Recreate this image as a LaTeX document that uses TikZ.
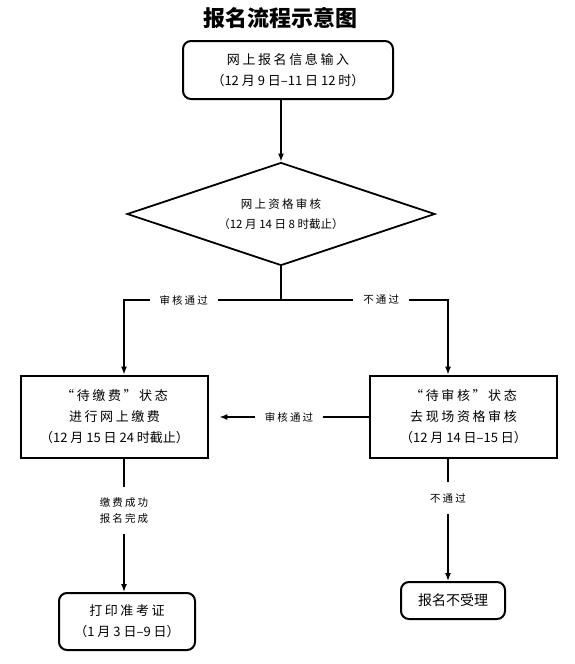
\documentclass[tikz,border=0pt]{standalone}
\usepackage{fontspec}
\setmainfont{Noto Sans CJK SC}
\newfontfamily\widecjk[LetterSpace=20]{Noto Sans CJK SC}
\usetikzlibrary{arrows.meta,shapes.geometric}
\definecolor{LineClr}{rgb}{0,0,0}

\begin{document}
\begin{tikzpicture}[x=1pt,y=-1pt]
\tikzset{
  RoundBox/.style={draw=LineClr,line width=2pt,rounded corners=8pt,align=center,inner sep=0pt,font=\fontsize{13}{21}\selectfont},
  SquareBox/.style={draw=LineClr,line width=2.6pt,align=center,inner sep=0pt,font=\fontsize{13}{21}\selectfont},
  Decision/.style={draw=LineClr,diamond,aspect=3,line width=1.8pt,inner sep=0pt,align=center,font=\fontsize{11.5}{20}\selectfont},
  Connector/.style={draw=LineClr,line width=1.5pt,-{Latex[length=8pt,width=6pt]}},
  EdgeLabel/.style={fill=white,inner xsep=10pt,inner ysep=11pt,align=center,font=\fontsize{10.5}{16}\selectfont\widecjk}
}
\useasboundingbox (0,0) rectangle (574,664);

\node[font=\fontsize{22}{22}\selectfont\bfseries] (title) at (280,18) {报名流程示意图};

\node[RoundBox,minimum width=210pt,minimum height=58pt] (entry) at (288,70) {{\widecjk 网上报名信息输入}\\（12 月 9 日–11 日 12 时）};
\node[Decision,minimum width=308pt,minimum height=103pt] (review) at (281,214) {{\widecjk 网上资格审核}\\（12 月 14 日 8 时截止）};
\coordinate (fork) at (281,300);

\node[SquareBox,minimum width=187pt,minimum height=82pt] (pay) at (114.5,417) {{\widecjk “待缴费”状态}\\{\widecjk 进行网上缴费}\\（12 月 15 日 24 时截止）};
\node[SquareBox,minimum width=187pt,minimum height=82pt] (onsite) at (463.5,417) {{\widecjk “待审核”状态}\\{\widecjk 去现场资格审核}\\（12 月 14 日–15 日）};

\node[RoundBox,minimum width=136pt,minimum height=57pt] (ticket) at (127,621.5) {{\widecjk 打印准考证}\\（1 月 3 日–9 日）};
\node[RoundBox,minimum width=104pt,minimum height=37pt,font=\fontsize{14}{14}\selectfont] (reject) at (453,600.5) {报名不受理};

\draw[Connector] (review.north |- entry.south) -- (review.north);
\draw[line width=1.5pt] (review.south) -- (fork);
\draw[Connector] (fork) -| node[EdgeLabel,pos=0.31] {审核通过} ([xshift=9.5pt]pay.north);
\draw[Connector] (fork) -| node[EdgeLabel,pos=0.3] {不通过} ([xshift=-15.5pt]onsite.north);

\draw[Connector,shorten >=10pt] (onsite.west) -- node[EdgeLabel] {审核通过} (pay.east);

\draw[Connector] ([xshift=9.5pt]pay.south) -- node[EdgeLabel,pos=0.385] {缴费成功\\报名完成} ([xshift=9.5pt]pay.south |- ticket.north);
\draw[Connector] ([xshift=-15.5pt]onsite.south) -- node[EdgeLabel,pos=0.32] {不通过} ([xshift=-15.5pt]onsite.south |- reject.north);

\end{tikzpicture}
\end{document}
